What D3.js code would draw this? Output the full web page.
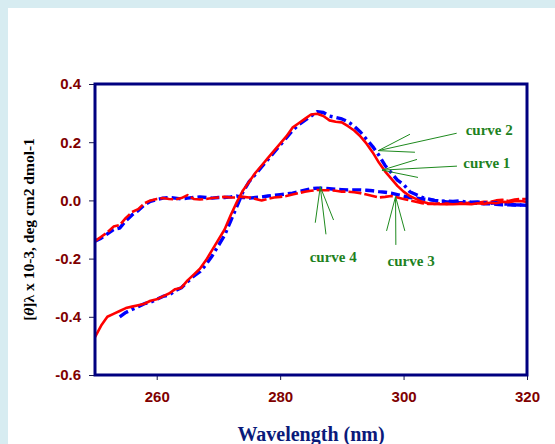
<!DOCTYPE html>
<html>
<head>
<meta charset="utf-8">
<script src="https://cdn.jsdelivr.net/npm/d3@7"></script>
<style>
  html, body { margin: 0; padding: 0; background: #d7ecf1; }
  #chart { width: 555px; height: 444px; }
</style>
</head>
<body>
<div id="chart"></div>
<script>
// wavelength grid, 1 nm steps
const wavelengths = d3.range(250, 321);

// curve 1 - red solid
const curve1 = [-0.47, -0.43, -0.40, -0.39, -0.38, -0.37, -0.365, -0.36, -0.355, -0.345,
  -0.34, -0.33, -0.32, -0.305, -0.30, -0.275, -0.255, -0.235, -0.205, -0.17,
  -0.135, -0.10, -0.05, -0.005, 0.035, 0.065, 0.095, 0.12, 0.145, 0.17,
  0.195, 0.22, 0.25, 0.265, 0.28, 0.295, 0.298, 0.29, 0.275, 0.27,
  0.268, 0.255, 0.24, 0.22, 0.195, 0.165, 0.13, 0.10, 0.075, 0.05,
  0.03, 0.015, 0.005, -0.005, -0.01, -0.012, -0.013, -0.012, -0.013, -0.012,
  -0.012, -0.013, -0.01, -0.012, -0.008, -0.01, -0.005, -0.006, -0.003, -0.002, -0.005];

// curve 2 - blue dash-dot (no data below 254 nm)
const curve2 = [null, null, null, null, -0.40, -0.385, -0.375, -0.365, -0.355, -0.35,
  -0.34, -0.33, -0.325, -0.31, -0.30, -0.28, -0.26, -0.245, -0.22, -0.19,
  -0.155, -0.12, -0.07, -0.02, 0.03, 0.065, 0.09, 0.115, 0.14, 0.165,
  0.19, 0.215, 0.24, 0.26, 0.275, 0.29, 0.305, 0.302, 0.29, 0.285,
  0.28, 0.27, 0.255, 0.235, 0.21, 0.185, 0.155, 0.12, 0.095, 0.07,
  0.055, 0.03, 0.02, 0.01, 0.005, 0.0, -0.003, -0.002, -0.004, -0.002,
  -0.005, -0.006, -0.005, -0.008, -0.01, -0.008, -0.012, -0.013, -0.015, -0.016, -0.017];

// curve 3 - red dashed
const curve3 = [-0.14, -0.125, -0.11, -0.09, -0.085, -0.06, -0.04, -0.03, -0.01, 0.0,
  0.005, 0.008, 0.005, 0.003, 0.008, 0.018, 0.005, 0.003, 0.005, 0.008,
  0.01, 0.012, 0.01, 0.01, 0.012, 0.01, 0.005, 0.0, 0.005, 0.01,
  0.012, 0.015, 0.02, 0.025, 0.03, 0.033, 0.036, 0.035, 0.035, 0.033,
  0.03, 0.03, 0.028, 0.025, 0.02, 0.015, 0.01, 0.012, 0.015, 0.01,
  0.005, 0.0, -0.005, -0.01, -0.012, -0.012, -0.01, -0.012, -0.01, -0.01,
  -0.008, -0.01, -0.008, -0.005, -0.005, 0.0, 0.002, -0.002, 0.003, 0.005, 0.005];

// curve 4 - blue dashed
const curve4 = [-0.14, -0.13, -0.115, -0.10, -0.095, -0.07, -0.05, -0.035, -0.015, -0.003,
  0.003, 0.008, 0.01, 0.008, 0.005, 0.008, 0.01, 0.012, 0.01, 0.008,
  0.01, 0.01, 0.012, 0.015, 0.01, 0.008, 0.01, 0.012, 0.015, 0.018,
  0.02, 0.022, 0.025, 0.03, 0.035, 0.04, 0.042, 0.042, 0.04, 0.038,
  0.037, 0.036, 0.036, 0.036, 0.035, 0.033, 0.03, 0.028, 0.025, 0.02,
  0.015, 0.01, 0.008, 0.005, 0.003, 0.0, -0.002, -0.005, -0.005, -0.008,
  -0.008, -0.01, -0.01, -0.012, -0.012, -0.013, -0.015, -0.015, -0.016, -0.016, -0.017];

// axis ticks
const xTicks = [260, 280, 300, 320];
const yTicks = [0.4, 0.2, 0.0, -0.2, -0.4, -0.6];

// annotation labels and where they point (wavelength, value)
const annoLabels = ['curve 2', 'curve 1', 'curve 4', 'curve 3'];
const annoPoints = [[295.9, 0.171], [296.5, 0.104], [286.5, 0.047], [298.7, 0.013]];

const width = 555, height = 444;
const margin = { top: 84, right: 28, bottom: 69, left: 95 };

const svg = d3.select('#chart').append('svg')
  .attr('width', width)
  .attr('height', height);

// white panel over the light blue page
svg.append('rect')
  .attr('x', 8).attr('y', 8)
  .attr('width', width - 8).attr('height', height - 8)
  .attr('fill', '#ffffff');

const x = d3.scaleLinear().domain([250, 320]).range([margin.left, width - margin.right]);
const y = d3.scaleLinear().domain([-0.6, 0.4]).range([height - margin.bottom, margin.top]);

// axes
const xAxis = svg.append('g')
  .attr('transform', `translate(0,${height - margin.bottom})`)
  .call(d3.axisBottom(x).tickValues(xTicks).tickSize(5).tickPadding(11).tickFormat(d => String(d)));
const yAxis = svg.append('g')
  .attr('transform', `translate(${margin.left},0)`)
  .call(d3.axisLeft(y).tickValues(yTicks).tickSize(6).tickPadding(8).tickFormat(d => d.toFixed(1)));

[xAxis, yAxis].forEach(a => {
  a.select('.domain').remove();
  a.selectAll('line').attr('stroke', '#1a1a4a').attr('stroke-width', 1);
  a.selectAll('text')
    .attr('fill', '#800000')
    .style('font-family', '"Liberation Sans", Arial, sans-serif')
    .style('font-weight', 'bold')
    .style('font-size', '15px');
});

// curves
const series = [
  { values: curve1, color: '#ff0000', width: 2.6, dash: null },
  { values: curve2, color: '#0000ff', width: 3.4, dash: '10,4,3,4' },
  { values: curve3, color: '#ff0000', width: 2.6, dash: '13,3' },
  { values: curve4, color: '#0000ff', width: 3.4, dash: '9,4' }
];

const line = d3.line()
  .defined(d => d[1] !== null)
  .x(d => x(d[0]))
  .y(d => y(d[1]));

// draw dashed small ones first, then big ones
[3, 2, 1, 0].forEach(i => {
  const s = series[i];
  svg.append('path')
    .datum(wavelengths.map((w, j) => [w, s.values[j]]))
    .attr('fill', 'none')
    .attr('stroke', s.color)
    .attr('stroke-width', s.width)
    .attr('stroke-dasharray', s.dash)
    .attr('stroke-linejoin', 'round')
    .attr('d', line);
});

// frame
svg.append('rect')
  .attr('x', margin.left).attr('y', margin.top)
  .attr('width', width - margin.left - margin.right)
  .attr('height', height - margin.top - margin.bottom)
  .attr('fill', 'none')
  .attr('stroke', '#000080')
  .attr('stroke-width', 3);

// annotations: fan of three lines and a label
const fans = [
  [[31.7, -16.4], [78.4, -17.4], [36.7, 1.6]],
  [[35, -10.7], [75, -4], [36, 7.3]],
  [[-5, 36], [5.7, 47.6], [13.3, 33.3]],
  [[-9, 34.3], [0.3, 48.3], [9.3, 34.3]]
];
const textOffsets = [[87.4, -15.7, 'start'], [81.3, -2.3, 'start'], [13, 75, 'middle'], [15.6, 69, 'middle']];

annoLabels.forEach((label, i) => {
  const px = x(annoPoints[i][0]), py = y(annoPoints[i][1]);
  fans[i].forEach(f => {
    svg.append('line')
      .attr('x1', px).attr('y1', py)
      .attr('x2', px + f[0]).attr('y2', py + f[1])
      .attr('stroke', '#1e8a1e')
      .attr('stroke-width', 1);
  });
  svg.append('text')
    .attr('x', px + textOffsets[i][0])
    .attr('y', py + textOffsets[i][1])
    .attr('text-anchor', textOffsets[i][2])
    .attr('fill', '#1e821e')
    .style('font-family', '"Liberation Serif", "Times New Roman", serif')
    .style('font-weight', 'bold')
    .style('font-size', '15px')
    .text(label);
});

// axis titles
svg.append('text')
  .attr('x', (margin.left + width - margin.right) / 2)
  .attr('y', 441)
  .attr('text-anchor', 'middle')
  .attr('fill', '#0a1a7a')
  .style('font-family', '"Liberation Serif", "Times New Roman", serif')
  .style('font-weight', 'bold')
  .style('font-size', '20px')
  .text('Wavelength (nm)');

const yTitle = svg.append('text')
  .attr('transform', `translate(34,${(margin.top + height - margin.bottom) / 2}) rotate(-90)`)
  .attr('text-anchor', 'middle')
  .attr('fill', '#000000')
  .style('font-family', '"Liberation Serif", "Times New Roman", serif')
  .style('font-weight', 'bold')
  .style('font-size', '15.5px');
yTitle.append('tspan').text('[');
yTitle.append('tspan').style('font-style', 'italic').text('θ');
yTitle.append('tspan').text(']λ x 10-3, deg cm2 dmol-1');
</script>
</body>
</html>
